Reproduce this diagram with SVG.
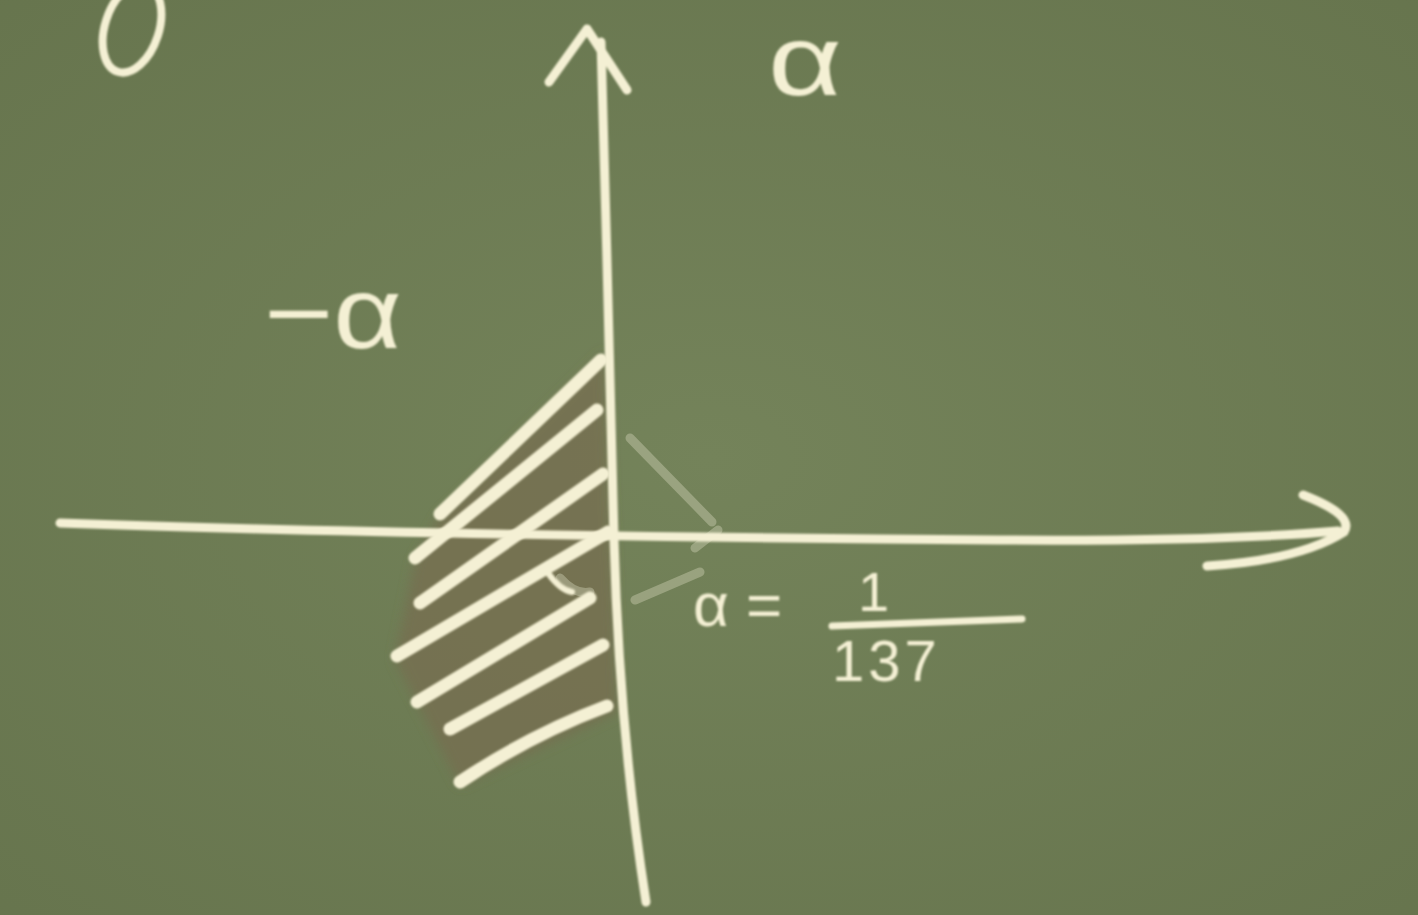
<svg xmlns="http://www.w3.org/2000/svg" width="1418" height="915" viewBox="0 0 1418 915">
<defs>
<radialGradient id="bg" cx="50%" cy="50%" r="75%">
<stop offset="0" stop-color="#74835a"/>
<stop offset="1" stop-color="#66744d"/>
</radialGradient>
<filter id="soft" x="-5%" y="-5%" width="110%" height="110%"><feGaussianBlur stdDeviation="0.9"/></filter>
<filter id="blurfill" x="-10%" y="-10%" width="120%" height="120%"><feGaussianBlur stdDeviation="6"/></filter>
<style>
.chalk{fill:none;stroke:#f4f0d4;stroke-linecap:round;stroke-linejoin:round}
.axis{stroke-width:9}
.hatch{stroke-width:13}
.faint{fill:none;stroke:#c9cbb0;stroke-opacity:0.45;stroke-width:9;stroke-linecap:round}
.txt{fill:#f4f0d4;font-family:"Liberation Sans","DejaVu Sans",sans-serif}
</style>
</defs>
<rect width="1418" height="915" fill="url(#bg)"/>
<g id="shaded-region">
<polygon points="605,352 612,540 618,712 460,786 395,660 415,560 440,515" fill="#766c4f" fill-opacity="0.7" filter="url(#blurfill)"/>
</g>
<g id="erased-marks">
<path class="faint" d="M630,438 L712,522 M695,548 L718,530 M635,600 L700,572"/>
<path class="faint" d="M560,578 Q575,595 590,592" stroke-opacity="0.6"/>
</g>
<g id="connectors" filter="url(#soft)">
<path id="y-axis" class="chalk axis" d="M601,42 C606,200 610,400 614,540 C618,680 630,800 646,902"/>
<path id="y-arrowhead" class="chalk axis" stroke-width="8" d="M549,82 L587,29 L627,90"/>
<path id="x-axis" class="chalk axis" d="M60,523 C300,532 700,538 1000,540 C1150,541 1260,538 1338,531"/>
<path id="x-arrowhead" class="chalk axis" stroke-width="8" d="M1303,495 Q1355,515 1344,532 Q1300,560 1207,566"/>
</g>
<g id="hatching" filter="url(#soft)">
<path class="chalk hatch" d="M440,514 L601,360"/>
<path class="chalk hatch" d="M415,558 L597,410"/>
<path class="chalk hatch" d="M420,603 L603,474"/>
<path class="chalk hatch" d="M397,656 L608,532"/>
<path class="chalk hatch" d="M417,702 L590,598"/>
<path class="chalk hatch" d="M450,729 L603,645"/>
<path class="chalk hatch" stroke-width="11" d="M460,782 Q530,735 607,706"/>
<path class="chalk" stroke-width="6" d="M548,573 Q560,590 572,592"/>
</g>
<g id="top-mark" filter="url(#soft)">
<ellipse class="chalk" stroke-width="8" cx="132" cy="28" rx="27" ry="46" transform="rotate(18 132 28)"/>
</g>
<g id="label-alpha" filter="url(#soft)">
<text class="txt" font-size="80" transform="translate(768,95) scale(1.6,1.25)">α</text>
</g>
<g id="label-minus-alpha" filter="url(#soft)">
<text class="txt" font-size="88" transform="translate(264,348) scale(1.35,1.15)">−α</text>
</g>
<g id="label-fine-structure" filter="url(#soft)">
<text class="txt" x="693" y="626" font-size="62">α =</text>
<text class="txt" x="858" y="611" font-size="56">1</text>
<path class="chalk" stroke-width="7" d="M832,626 L1022,619"/>
<text class="txt" x="832" y="681" font-size="58" letter-spacing="4">137</text>
</g>
</svg>
